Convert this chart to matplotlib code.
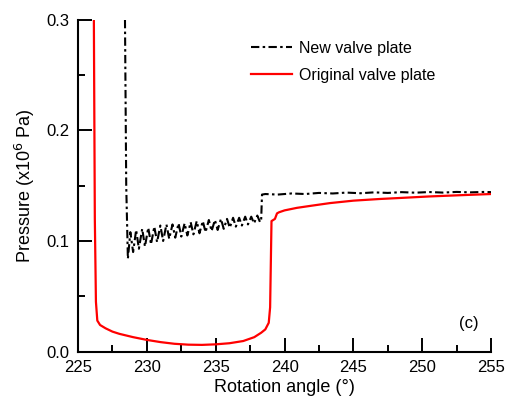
import matplotlib.pyplot as plt
from matplotlib.ticker import MultipleLocator

plt.rcParams['font.family'] = ['Liberation Sans', 'DejaVu Sans']

# new valve plate: pressure spike, damped ripple, then step up
new_angle = [228.41, 228.50, 228.62,
             228.80, 229.00, 229.22, 229.42, 229.66, 229.86, 230.10, 230.30,
             230.54, 230.74, 230.98, 231.18, 231.42, 231.62, 231.86, 232.06,
             232.30, 232.50, 232.74, 232.94, 233.18, 233.38, 233.62, 233.82,
             234.06, 234.26, 234.50, 234.70, 234.94, 235.14, 235.38, 235.58,
             235.82, 236.02, 236.26, 236.46, 236.70, 236.90, 237.14, 237.34,
             237.58, 237.78, 238.02, 238.22,
             238.30, 238.36, 238.60, 239.5, 240.5, 241.5, 242.5, 243.5, 244.5,
             245.5, 246.5, 247.5, 248.5, 249.5, 250.5, 251.5, 252.5, 253.5,
             254.5, 255.0]
new_p = [0.300, 0.150, 0.084,
         0.108, 0.090, 0.110, 0.093, 0.111, 0.095, 0.112, 0.097,
         0.113, 0.099, 0.114, 0.100, 0.115, 0.102, 0.115, 0.103,
         0.116, 0.104, 0.116, 0.105, 0.117, 0.106, 0.118, 0.107,
         0.118, 0.108, 0.119, 0.109, 0.119, 0.110, 0.120, 0.111,
         0.120, 0.112, 0.121, 0.113, 0.121, 0.114, 0.122, 0.115,
         0.122, 0.116, 0.123, 0.117,
         0.119, 0.142, 0.1425, 0.1420, 0.1430, 0.1425, 0.1435, 0.1430, 0.1438,
         0.1432, 0.1440, 0.1435, 0.1442, 0.1437, 0.1443, 0.1438, 0.1444,
         0.1440, 0.1444, 0.1442]

# original valve plate
orig_angle = [226.15, 226.22, 226.30, 226.40, 226.60, 227.0, 227.5, 228.0,
              229.0, 230.0, 231.0, 232.0, 233.0, 234.0, 235.0, 236.0, 237.0,
              237.8, 238.3, 238.6, 238.85, 238.95, 239.05, 239.30, 239.45,
              239.60, 240.0, 240.9, 242.0, 243.3, 245.0, 246.9, 248.5, 250.5,
              252.5, 255.0]
orig_p = [0.300, 0.120, 0.045, 0.028, 0.024, 0.021, 0.018, 0.016,
          0.013, 0.0105, 0.0085, 0.007, 0.0062, 0.006, 0.0065, 0.0075, 0.0095,
          0.013, 0.017, 0.020, 0.026, 0.040, 0.118, 0.120, 0.125,
          0.126, 0.1277, 0.130, 0.132, 0.1343, 0.1365, 0.138, 0.139, 0.1403,
          0.1413, 0.1425]

fig = plt.figure(figsize=(5.1, 3.99), dpi=100)
ax = fig.add_axes([0.153, 0.119, 0.810, 0.831])

ax.plot(new_angle, new_p, color='black', lw=1.5, dashes=(4, 1.6, 1.2, 1.6),
        label='New valve plate')
ax.plot(orig_angle, orig_p, color='red', lw=1.6, label='Original valve plate')

ax.set_xlim(225, 255)
ax.set_ylim(0, 0.3)
ax.xaxis.set_major_locator(MultipleLocator(5))
ax.xaxis.set_minor_locator(MultipleLocator(2.5))
ax.yaxis.set_major_locator(MultipleLocator(0.1))
ax.yaxis.set_minor_locator(MultipleLocator(0.05))
ax.yaxis.set_major_formatter(plt.FormatStrFormatter('%.1f'))

for s in ['top', 'right']:
    ax.spines[s].set_visible(False)
for s in ['left', 'bottom']:
    ax.spines[s].set_linewidth(1.5)

ax.tick_params(which='major', direction='in', length=10, width=1.4,
               labelsize=12, pad=6)
ax.tick_params(which='minor', direction='in', length=5, width=1.4)

ax.set_xlabel('Rotation angle (°)', fontsize=13, labelpad=3)
ax.set_ylabel('Pressure (x10$^6$ Pa)', fontsize=13, labelpad=7)

ax.legend(loc='upper left', bbox_to_anchor=(0.383, 0.98), frameon=False,
          fontsize=11.5, handlelength=2.6, handletextpad=0.45,
          labelspacing=0.75)
ax.text(0.946, 0.085, '(c)', transform=ax.transAxes, fontsize=12,
        ha='center', va='center')

fig.savefig('out.png', dpi=100)
